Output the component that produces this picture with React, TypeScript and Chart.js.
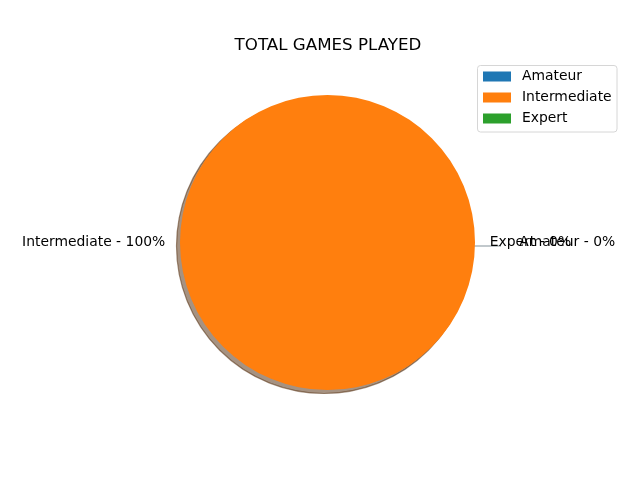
import React, { useEffect, useRef } from "react";
import { Chart, registerables } from "chart.js";

Chart.register(...registerables);

const titleText = "TOTAL GAMES PLAYED";
const categories = ["Amateur", "Intermediate", "Expert"];
const gamesPlayed = [0, 100, 0];
const colors = ["#1f77b4", "#ff7f0e", "#2ca02c"];
const explode = [0.2, 0, 0];

const FONT = "'DejaVu Sans', 'Liberation Sans', sans-serif";

function hexToRgb(hex: string) {
  const v = parseInt(hex.slice(1), 16);
  return [(v >> 16) & 255, (v >> 8) & 255, v & 255];
}

const piePlugin = {
  id: "mplPie",
  beforeDatasetsDraw(chart: any) {
    const ctx = chart.ctx;
    const meta = chart.getDatasetMeta(0);
    const sox = -3.5;
    const soy = 3.5;
    meta.data.forEach((arc: any, i: number) => {
      const { x, y, startAngle, endAngle, outerRadius } = arc.getProps(
        ["x", "y", "startAngle", "endAngle", "outerRadius"],
        true
      );
      const mid = (startAngle + endAngle) / 2;
      const ex = explode[i] * outerRadius;
      const cx = x + Math.cos(mid) * ex + sox;
      const cy = y + Math.sin(mid) * ex + soy;
      const [r, g, b] = hexToRgb(colors[i]);
      const sc = `rgba(${Math.round(r * 0.3)},${Math.round(g * 0.3)},${Math.round(b * 0.3)},0.5)`;
      ctx.save();
      if (endAngle - startAngle > 1e-6) {
        ctx.beginPath();
        if (endAngle - startAngle >= Math.PI * 2 - 1e-6) {
          ctx.arc(cx, cy, outerRadius, 0, Math.PI * 2);
        } else {
          ctx.moveTo(cx, cy);
          ctx.arc(cx, cy, outerRadius, startAngle, endAngle);
          ctx.closePath();
        }
        ctx.fillStyle = sc;
        ctx.fill();
        ctx.strokeStyle = sc;
        ctx.lineWidth = 1.2;
        ctx.stroke();
      } else {
        ctx.beginPath();
        ctx.moveTo(cx, cy);
        ctx.lineTo(cx + Math.cos(mid) * outerRadius, cy + Math.sin(mid) * outerRadius);
        ctx.strokeStyle = sc;
        ctx.lineWidth = 1.2;
        ctx.stroke();
      }
      ctx.restore();
    });
  },
  afterDatasetsDraw(chart: any) {
    const ctx = chart.ctx;
    const meta = chart.getDatasetMeta(0);
    const data = chart.data.datasets[0].data as number[];
    const total = data.reduce((a, b) => a + b, 0);
    ctx.save();
    ctx.font = `13.9px ${FONT}`;
    ctx.fillStyle = "#000";
    ctx.textBaseline = "middle";
    meta.data.forEach((arc: any, i: number) => {
      const { x, y, startAngle, endAngle, outerRadius } = arc.getProps(
        ["x", "y", "startAngle", "endAngle", "outerRadius"],
        true
      );
      const mid = (startAngle + endAngle) / 2;
      const d = outerRadius * (1.1 + explode[i]);
      const lx = x + Math.cos(mid) * d;
      const ly = y + Math.sin(mid) * d;
      const pct = total ? Math.round((data[i] / total) * 100) : 0;
      ctx.textAlign = Math.cos(mid) < 0 ? "right" : "left";
      ctx.fillText(`${chart.data.labels[i]} - ${pct}%`, lx, ly);
    });
    ctx.restore();
  },
  afterDraw(chart: any) {
    const ctx = chart.ctx;
    ctx.save();
    // title
    ctx.font = `16.7px ${FONT}`;
    ctx.fillStyle = "#000";
    ctx.textAlign = "center";
    ctx.textBaseline = "alphabetic";
    ctx.fillText(titleText, 328, 49.5);
    // legend
    const lx = 477.5, ly = 65.5, lw = 139.5, lh = 66.5, rad = 3;
    ctx.beginPath();
    ctx.moveTo(lx + rad, ly);
    ctx.lineTo(lx + lw - rad, ly);
    ctx.arcTo(lx + lw, ly, lx + lw, ly + rad, rad);
    ctx.lineTo(lx + lw, ly + lh - rad);
    ctx.arcTo(lx + lw, ly + lh, lx + lw - rad, ly + lh, rad);
    ctx.lineTo(lx + rad, ly + lh);
    ctx.arcTo(lx, ly + lh, lx, ly + lh - rad, rad);
    ctx.lineTo(lx, ly + rad);
    ctx.arcTo(lx, ly, lx + rad, ly, rad);
    ctx.closePath();
    ctx.fillStyle = "rgba(255,255,255,0.8)";
    ctx.fill();
    ctx.strokeStyle = "#d6d6d6";
    ctx.lineWidth = 1;
    ctx.stroke();
    ctx.font = `13.9px ${FONT}`;
    ctx.textAlign = "left";
    ctx.textBaseline = "middle";
    categories.forEach((c, i) => {
      const ry = 76.5 + i * 21;
      ctx.fillStyle = colors[i];
      ctx.fillRect(483, ry - 5, 28, 10);
      ctx.fillStyle = "#000";
      ctx.fillText(c, 522, ry);
    });
    ctx.restore();
  },
};

export default function App() {
  const ref = useRef<HTMLCanvasElement>(null);
  useEffect(() => {
    if (!ref.current) return;
    const chart = new Chart(ref.current, {
      type: "pie",
      data: {
        labels: categories,
        datasets: [
          {
            data: gamesPlayed,
            backgroundColor: colors,
            borderWidth: 0,
          },
        ],
      },
      options: {
        responsive: false,
        animation: false,
        rotation: 90,
        layout: { padding: { left: 180, right: 165, top: 95, bottom: 90 } },
        plugins: {
          legend: { display: false },
          title: { display: false },
          tooltip: { enabled: false },
        },
      },
      plugins: [piePlugin],
    });
    return () => chart.destroy();
  }, []);
  return (
    <div style={{ position: "absolute", left: 0, top: 0, width: 640, height: 480, background: "#fff" }}>
      <canvas ref={ref} width={640} height={480} />
    </div>
  );
}
